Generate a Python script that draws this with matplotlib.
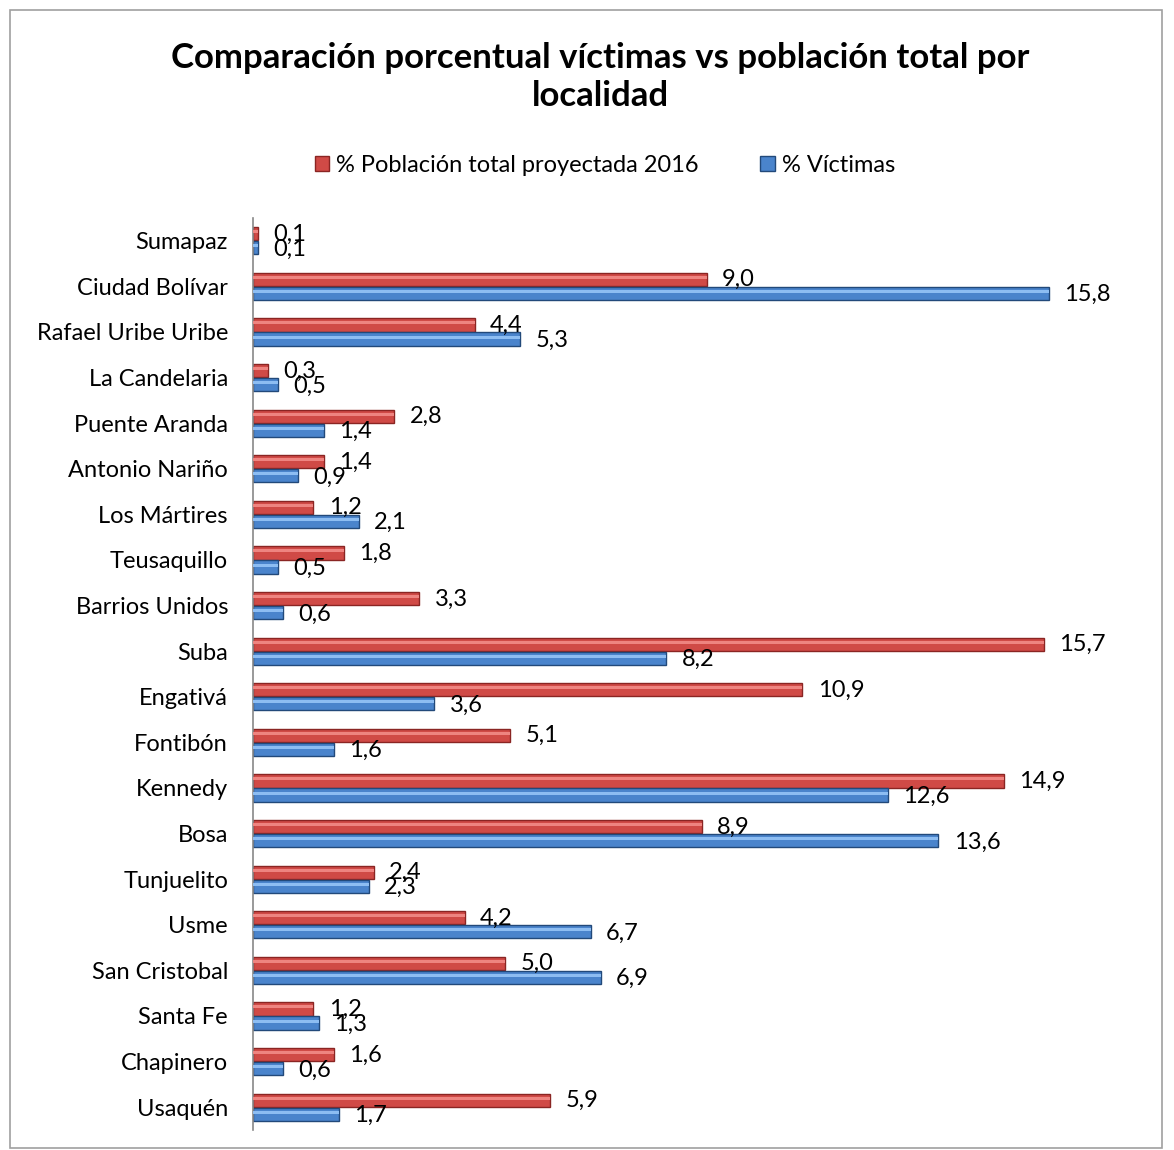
import matplotlib
matplotlib.use("Agg")
import matplotlib.pyplot as plt
from matplotlib.patches import Rectangle
import numpy as np

plt.rcParams['font.family'] = ['Lato', 'DejaVu Sans']

categories = ["Sumapaz", "Ciudad Bolívar", "Rafael Uribe Uribe", "La Candelaria",
              "Puente Aranda", "Antonio Nariño", "Los Mártires", "Teusaquillo",
              "Barrios Unidos", "Suba", "Engativá", "Fontibón", "Kennedy", "Bosa",
              "Tunjuelito", "Usme", "San Cristobal", "Santa Fe", "Chapinero", "Usaquén"]
poblacion = [0.1, 9.0, 4.4, 0.3, 2.8, 1.4, 1.2, 1.8, 3.3, 15.7,
             10.9, 5.1, 14.9, 8.9, 2.4, 4.2, 5.0, 1.2, 1.6, 5.9]
victimas = [0.1, 15.8, 5.3, 0.5, 1.4, 0.9, 2.1, 0.5, 0.6, 8.2,
            3.6, 1.6, 12.6, 13.6, 2.3, 6.7, 6.9, 1.3, 0.6, 1.7]
series_names = ["% Población total proyectada 2016", "% Víctimas"]

W, H = 1174, 1150
fig = plt.figure(figsize=(W / 100, H / 100), dpi=100)
fig.patch.set_facecolor("white")
fig.patches.append(Rectangle((10 / W, 2 / H), 1152 / W, 1138 / H, transform=fig.transFigure,
                             fill=False, edgecolor="#A0A0A0", linewidth=1.2))

ax = fig.add_axes([253 / W, (H - 1130) / H, (1150 - 253) / W, (1130 - 218) / H])

y = np.arange(len(categories))
bh = 0.29
red, red_dark, red_light = "#D04A46", "#8A2523", "#EE8480"
blue, blue_dark, blue_light = "#4A84CC", "#22497A", "#8DBDF2"

ax.barh(y - bh / 2 - 0.01, poblacion, height=bh, color=red, edgecolor=red_dark, linewidth=1.0,
        label=series_names[0], zorder=2)
ax.barh(y + bh / 2 + 0.01, victimas, height=bh, color=blue, edgecolor=blue_dark, linewidth=1.0,
        label=series_names[1], zorder=2)
# highlight stripes for the glossy look
ax.barh(y - bh / 2 - 0.01 - bh * 0.15, poblacion, height=bh * 0.22, color=red_light,
        linewidth=0, zorder=3)
ax.barh(y + bh / 2 + 0.01 - bh * 0.15, victimas, height=bh * 0.22, color=blue_light,
        linewidth=0, zorder=3)

fs = 17
for i, (p, v) in enumerate(zip(poblacion, victimas)):
    ax.annotate(f"{p:.1f}".replace(".", ","), (p, y[i] - bh / 2), xytext=(11, 0),
                textcoords="offset points", va="center", ha="left", fontsize=fs, color="black")
    ax.annotate(f"{v:.1f}".replace(".", ","), (v, y[i] + bh / 2 + 0.04), xytext=(11, 0),
                textcoords="offset points", va="center", ha="left", fontsize=fs, color="black")

ax.set_xlim(0, 17.8)
ax.set_ylim(len(categories) - 0.5, -0.5)
ax.set_yticks(y)
ax.set_yticklabels(categories, fontsize=fs)
ax.tick_params(axis="y", length=0, pad=18)
ax.set_xticks([])
for s in ["top", "right", "bottom"]:
    ax.spines[s].set_visible(False)
ax.spines["left"].set_color("#888888")
ax.spines["left"].set_linewidth(1.2)

fig.text(600 / W, 1 - 77 / H, "Comparación porcentual víctimas vs población total por\nlocalidad",
         ha="center", va="center", fontsize=25, fontweight="bold", linespacing=1.25)

handles = [Rectangle((0, 0), 1, 1, facecolor=red, edgecolor=red_dark),
           Rectangle((0, 0), 1, 1, facecolor=blue, edgecolor=blue_dark)]
fig.legend(handles, series_names, loc="center", bbox_to_anchor=(605 / W, 1 - 165 / H), ncol=2,
           frameon=False, fontsize=fs, handlelength=0.6, handleheight=0.6, handletextpad=0.3,
           columnspacing=2.6)

fig.savefig("out.png", dpi=100)
